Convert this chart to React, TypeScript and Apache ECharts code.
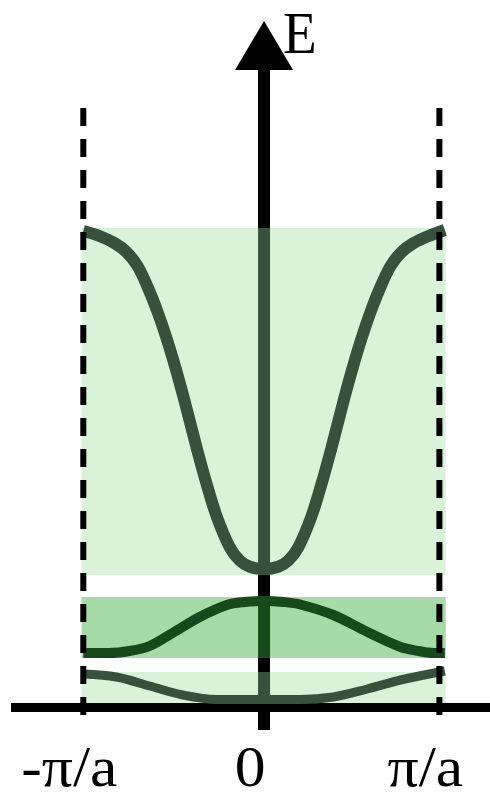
import React, { useEffect, useRef } from 'react';
import * as echarts from 'echarts';

// Wave vector k in units of π/a, energy E in arbitrary units

// Upper band: flat-bottomed well with its minimum at k = 0
const kUpper = [-1, -0.911, -0.828, -0.761, -0.7, -0.644, -0.589, -0.539, -0.489, -0.439, -0.372, -0.317, -0.261, -0.189, -0.133, -0.078, 0, 0.078, 0.133, 0.189, 0.261, 0.317, 0.372, 0.439, 0.489, 0.539, 0.589, 0.644, 0.7, 0.761, 0.828, 0.911, 1];
const eUpper = [4.765, 4.715, 4.645, 4.555, 4.415, 4.205, 3.955, 3.69, 3.39, 3.06, 2.59, 2.23, 1.905, 1.6, 1.467, 1.407, 1.385, 1.407, 1.467, 1.6, 1.905, 2.23, 2.59, 3.06, 3.39, 3.69, 3.955, 4.205, 4.415, 4.555, 4.645, 4.715, 4.775];

// Middle band: maximum at k = 0
const kMiddle = [-1, -0.856, -0.744, -0.633, -0.506, -0.356, -0.206, -0.106, 0, 0.106, 0.2, 0.383, 0.572, 0.756, 0.856, 0.939, 1];
const eMiddle = [0.545, 0.545, 0.565, 0.615, 0.745, 0.905, 1.025, 1.055, 1.065, 1.055, 1.03, 0.925, 0.755, 0.605, 0.565, 0.545, 0.545];

// Lowest band: minimum at k = 0
const kLower = [-1, -0.817, -0.633, -0.45, -0.261, 0, 0.2, 0.383, 0.572, 0.756, 1];
const eLower = [0.335, 0.305, 0.215, 0.125, 0.08, 0.08, 0.08, 0.105, 0.185, 0.275, 0.365];

// Allowed energy ranges [top, bottom] and their k extent
const bandUpper = [4.795, 1.325];
const bandMiddle = [1.105, 0.495];
const bandLower = [0.355, 0.045];
const bandK = [-1.01, 1.005];

// Zone boundary markers and tick labels
const zoneEdges = [-1, 0.97];
const tickK = [-1, 0, 0.97];
const tickLabels = ['-π/a', '0', 'π/a'];
const edgeRange = [5.995, -0.175];

const LIGHT = '#d9f3d9';
const MID = '#a6daa6';
const CURVE_LIGHT = '#36523c';
const CURVE_MID = '#164a1c';

const pairs = (ks: number[], es: number[]) => ks.map((k, i) => [k, es[i]]);

export default function App() {
  const ref = useRef<HTMLDivElement>(null);

  useEffect(() => {
    if (!ref.current) return;
    const chart = echarts.init(ref.current, null, { renderer: 'svg' });

    const band = (b: number[], color: string) => [
      { xAxis: bandK[0], yAxis: b[0], itemStyle: { color } },
      { xAxis: bandK[1], yAxis: b[1] },
    ];

    const axisSegment = (b: number[], color: string, name: string) => ({
      type: 'line',
      name,
      data: [[0, b[0]], [0, b[1]]],
      symbol: 'none',
      lineStyle: { color, width: 12, cap: 'butt' },
      z: 3,
    });

    const curve = (name: string, ks: number[], es: number[], color: string, width: number) => ({
      type: 'line',
      name,
      data: pairs(ks, es),
      smooth: 0.35,
      symbol: 'none',
      lineStyle: { color, width },
      z: 4,
    });

    const option: any = {
      animation: false,
      grid: { left: 11, right: 0, top: 70, bottom: 69 },
      xAxis: {
        type: 'value',
        min: -1.4,
        max: 1.25,
        axisLine: { show: true, onZero: true, lineStyle: { color: '#000', width: 9, cap: 'butt' } },
        axisTick: { show: false },
        axisLabel: { show: false },
        splitLine: { show: false },
      },
      yAxis: {
        type: 'value',
        min: -0.225,
        max: 6.375,
        axisLine: {
          show: true,
          onZero: true,
          symbol: ['none', 'triangle'],
          symbolSize: [58, 49],
          symbolOffset: [0, 24.5],
          lineStyle: { color: '#000', width: 12, cap: 'butt' },
        },
        axisTick: { show: false },
        axisLabel: { show: false },
        splitLine: { show: false },
      },
      series: [
        {
          type: 'line',
          name: 'bands',
          data: [],
          markArea: {
            silent: true,
            data: [
              band(bandUpper, LIGHT),
              band(bandMiddle, MID),
              band(bandLower, LIGHT),
            ],
          },
        },
        axisSegment(bandUpper, CURVE_LIGHT, 'k0-upper'),
        axisSegment(bandMiddle, CURVE_MID, 'k0-middle'),
        axisSegment(bandLower, CURVE_LIGHT, 'k0-lower'),
        curve('upper', kUpper, eUpper, CURVE_LIGHT, 12),
        curve('middle', kMiddle, eMiddle, CURVE_MID, 10),
        curve('lower', kLower, eLower, CURVE_LIGHT, 9),
        ...zoneEdges.map((k, i) => ({
          type: 'line',
          name: 'edge' + i,
          data: [[k, edgeRange[0]], [k, edgeRange[1]]],
          symbol: 'none',
          lineStyle: { color: '#000', width: 6, type: [18, 13], cap: 'butt' },
          z: 5,
        })),
      ],
    };

    chart.setOption(option);

    const px = (k: number) => chart.convertToPixel({ xAxisIndex: 0 } as any, k) as unknown as number;
    const labelFont = '56px "Liberation Serif", "Times New Roman", serif';

    chart.setOption({
      graphic: [
        ...tickLabels.map((t, i) => ({
          type: 'text',
          x: px(tickK[i]) - 14,
          y: 767,
          scaleX: 1.1,
          style: {
            text: t,
            font: labelFont,
            fill: '#000',
            align: 'center',
            verticalAlign: 'middle',
          },
        })),
        {
          type: 'text',
          x: 283,
          y: 33,
          scaleX: 0.92,
          style: {
            text: 'E',
            font: '60px "Liberation Serif", "Times New Roman", serif',
            fill: '#000',
            align: 'left',
            verticalAlign: 'middle',
          },
        },
      ],
    });

    return () => chart.dispose();
  }, []);

  return <div ref={ref} style={{ width: 490, height: 799, position: 'absolute', left: 0, top: 0 }} />;
}
